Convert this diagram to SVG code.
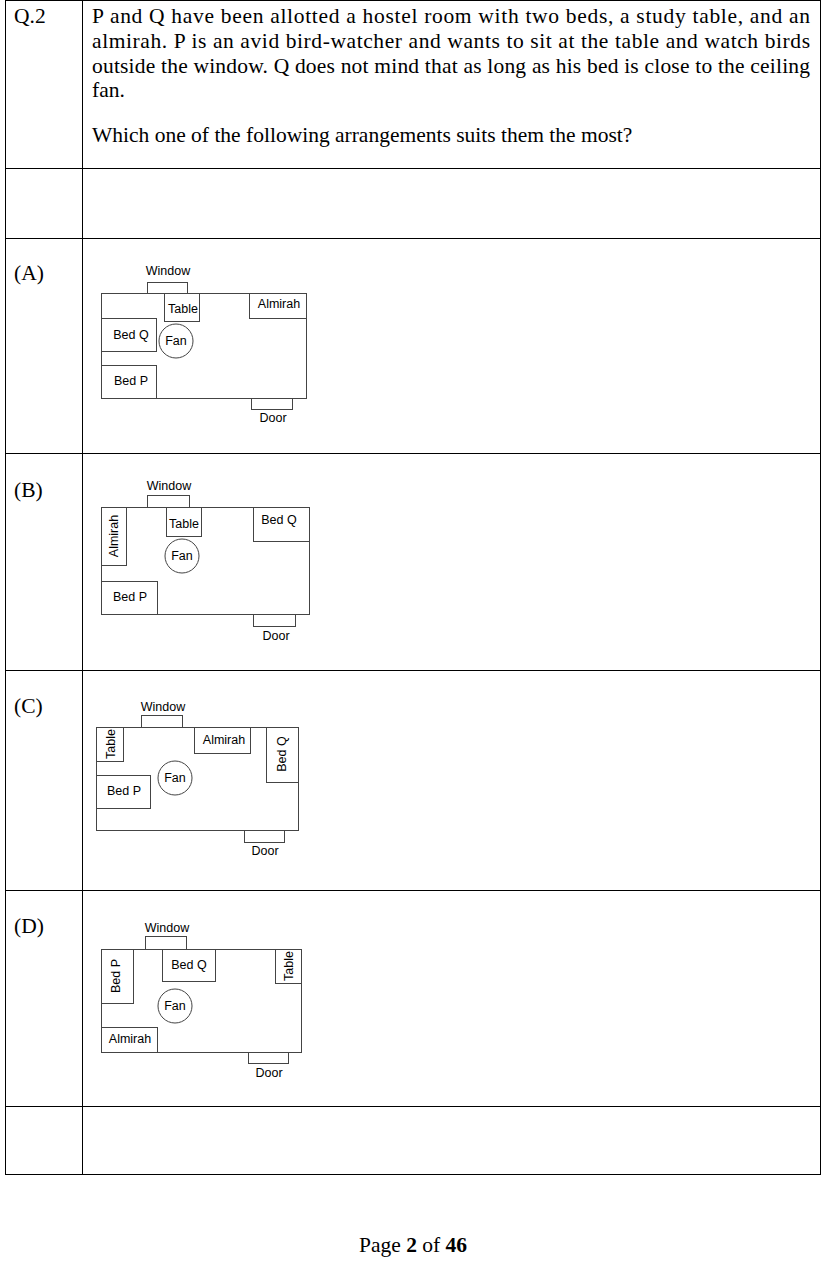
<svg xmlns="http://www.w3.org/2000/svg" width="830" height="1262" viewBox="0 0 830 1262">
<style>
.g{fill:none;stroke:#000;stroke-width:1}
.r{fill:none;stroke:#444;stroke-width:1}
.s{font-family:"Liberation Sans",Arial,sans-serif;font-size:12.5px;fill:#000}
.t{font-family:"Liberation Serif","Times New Roman",serif;font-size:21.5px;fill:#000}
</style>
<rect width="830" height="1262" fill="#fff"/>
<g id="table">
<rect class="g" x="5.5" y="0.5" width="815" height="1174"/>
<line class="g" x1="82.5" y1="0" x2="82.5" y2="1174"/>
<line class="g" x1="5" y1="168.5" x2="820" y2="168.5"/>
<line class="g" x1="5" y1="238.5" x2="820" y2="238.5"/>
<line class="g" x1="5" y1="453.5" x2="820" y2="453.5"/>
<line class="g" x1="5" y1="670.5" x2="820" y2="670.5"/>
<line class="g" x1="5" y1="890.5" x2="820" y2="890.5"/>
<line class="g" x1="5" y1="1106.5" x2="820" y2="1106.5"/>
</g>
<g id="question">
<text class="t" x="14" y="23">Q.2</text>
<text class="t" x="92" y="23" textLength="718" lengthAdjust="spacing">P and Q have been allotted a hostel room with two beds, a study table, and an</text>
<text class="t" x="92" y="48" textLength="718" lengthAdjust="spacing">almirah. P is an avid bird-watcher and wants to sit at the table and watch birds</text>
<text class="t" x="92" y="73" textLength="718" lengthAdjust="spacing">outside the window. Q does not mind that as long as his bed is close to the ceiling</text>
<text class="t" x="92" y="97">fan.</text>
<text class="t" x="92" y="142">Which one of the following arrangements suits them the most?</text>
<text class="t" x="14" y="280">(A)</text>
<text class="t" x="14" y="497">(B)</text>
<text class="t" x="14" y="713">(C)</text>
<text class="t" x="14" y="933">(D)</text>
</g>
<g id="planA">
<text class="s" x="168" y="275" text-anchor="middle">Window</text>
<rect class="r" x="147.5" y="282.5" width="40" height="11"/>
<rect class="r" x="101.5" y="293.5" width="205" height="105"/>
<rect class="r" x="164.5" y="293.5" width="35" height="28"/>
<text class="s" x="183" y="313" text-anchor="middle">Table</text>
<rect class="r" x="249.5" y="293.5" width="57" height="25"/>
<text class="s" x="279" y="308" text-anchor="middle">Almirah</text>
<rect class="r" x="101.5" y="318.5" width="55" height="33"/>
<text class="s" x="131" y="339" text-anchor="middle">Bed Q</text>
<rect class="r" x="101.5" y="365.5" width="55" height="33"/>
<text class="s" x="131" y="385" text-anchor="middle">Bed P</text>
<circle class="r" cx="176" cy="341" r="17"/>
<text class="s" x="176" y="341" text-anchor="middle" dominant-baseline="central">Fan</text>
<rect class="r" x="251.5" y="398.5" width="41" height="11"/>
<text class="s" x="273" y="422" text-anchor="middle">Door</text>
</g>
<g id="planB">
<text class="s" x="169" y="490" text-anchor="middle">Window</text>
<rect class="r" x="147.5" y="495.5" width="42" height="12"/>
<rect class="r" x="101.5" y="507.5" width="208" height="107"/>
<rect class="r" x="166.5" y="507.5" width="35" height="29"/>
<text class="s" x="184" y="528" text-anchor="middle">Table</text>
<rect class="r" x="101.5" y="507.5" width="25" height="58"/>
<text class="s" transform="translate(118,536) rotate(-90)" text-anchor="middle">Almirah</text>
<rect class="r" x="253.5" y="507.5" width="56" height="34"/>
<text class="s" x="279" y="524" text-anchor="middle">Bed Q</text>
<rect class="r" x="101.5" y="581.5" width="56" height="33"/>
<text class="s" x="130" y="601" text-anchor="middle">Bed P</text>
<circle class="r" cx="182" cy="556" r="17"/>
<text class="s" x="182" y="556" text-anchor="middle" dominant-baseline="central">Fan</text>
<rect class="r" x="253.5" y="614.5" width="42" height="12"/>
<text class="s" x="276" y="640" text-anchor="middle">Door</text>
</g>
<g id="planC">
<text class="s" x="163" y="711" text-anchor="middle">Window</text>
<rect class="r" x="141.5" y="715.5" width="41" height="12"/>
<rect class="r" x="96.5" y="727.5" width="202" height="103"/>
<rect class="r" x="96.5" y="727.5" width="27" height="34"/>
<text class="s" transform="translate(115,744) rotate(-90)" text-anchor="middle">Table</text>
<rect class="r" x="194.5" y="727.5" width="56" height="26"/>
<text class="s" x="224" y="744" text-anchor="middle">Almirah</text>
<rect class="r" x="266.5" y="727.5" width="32" height="55"/>
<text class="s" transform="translate(286,754) rotate(-90)" text-anchor="middle">Bed Q</text>
<rect class="r" x="96.5" y="775.5" width="54" height="33"/>
<text class="s" x="124" y="795" text-anchor="middle">Bed P</text>
<circle class="r" cx="175" cy="778" r="17"/>
<text class="s" x="175" y="778" text-anchor="middle" dominant-baseline="central">Fan</text>
<rect class="r" x="244.5" y="830.5" width="40" height="12"/>
<text class="s" x="265" y="855" text-anchor="middle">Door</text>
</g>
<g id="planD">
<text class="s" x="167" y="932" text-anchor="middle">Window</text>
<rect class="r" x="145.5" y="936.5" width="41" height="13"/>
<rect class="r" x="101.5" y="949.5" width="200" height="103"/>
<rect class="r" x="101.5" y="949.5" width="32" height="54"/>
<text class="s" transform="translate(120,976) rotate(-90)" text-anchor="middle">Bed P</text>
<rect class="r" x="162.5" y="949.5" width="53" height="32"/>
<text class="s" x="189" y="969" text-anchor="middle">Bed Q</text>
<rect class="r" x="275.5" y="949.5" width="26" height="34"/>
<text class="s" transform="translate(293,966) rotate(-90)" text-anchor="middle">Table</text>
<rect class="r" x="101.5" y="1027.5" width="56" height="25"/>
<text class="s" x="130" y="1043" text-anchor="middle">Almirah</text>
<circle class="r" cx="175" cy="1006" r="17"/>
<text class="s" x="175" y="1006" text-anchor="middle" dominant-baseline="central">Fan</text>
<rect class="r" x="248.5" y="1052.5" width="40" height="11"/>
<text class="s" x="269" y="1077" text-anchor="middle">Door</text>
</g>
<g id="footer">
<text class="t" x="413" y="1252" text-anchor="middle">Page <tspan font-weight="bold">2</tspan> of <tspan font-weight="bold">46</tspan></text>
</g>
</svg>
